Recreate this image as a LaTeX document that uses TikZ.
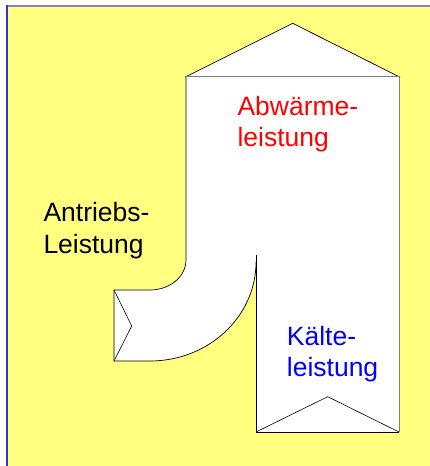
\documentclass[tikz,border=0pt]{standalone}
\usepackage{fontspec}
\setmainfont{Liberation Sans}
\usepackage{tikz}
\definecolor{bgyellow}{HTML}{FFFF80}
\definecolor{frameblue}{HTML}{3333CC}
\definecolor{frametop}{HTML}{8080CC}
\definecolor{edgegray}{HTML}{808070}
\tikzset{
  flowtext/.style={inner sep=0pt,anchor=base west,align=left,
    font=\fontsize{26.5}{31.5}\selectfont},
}
\begin{document}
\begin{tikzpicture}[x=1pt,y=1pt]
\useasboundingbox (0,0) rectangle (430,466);
% background:
\path[fill=bgyellow] (7,0) rectangle (430,460);
\path[draw=frametop,line width=1.3pt] (6.5,460) -- (430,460);
\path[draw=frameblue,line width=1.3pt] (7,0) -- (7,460.6);
% objects at depth 50:
\path[draw=black,fill=white,line width=0.7pt] (186,389.3) -- (292.7,442.7) -- (399,389.3) -- cycle;
\path[fill=white] (186,389.3) -- (399,389.3) -- (399,34) -- (256,34) -- (256,204)
  arc[start angle=0,end angle=-90,x radius=106,y radius=99] -- (114,105) -- (114,176)
  -- (150,176) arc[start angle=-90,end angle=0,x radius=36,y radius=30] -- cycle;
% outlines:
\path[draw=black,line width=0.7pt] (186,389.3) -- (186,206)
  arc[start angle=0,end angle=-90,x radius=36,y radius=30] -- (114,176) -- (114,105) -- (150,105)
  arc[start angle=-90,end angle=0,x radius=106,y radius=99];
\path[draw=black,line width=0.7pt] (256,211) -- (256,34) -- (399,34);
\path[draw=edgegray,line width=0.8pt] (186,389.3) -- (399,389.3) -- (399,34);
\path[draw=black,line width=0.6pt] (114,176) -- (131.7,140) -- (114,105);
\path[draw=black,line width=0.6pt] (256,34) -- (327.7,69.3) -- (399,34);
% labels:
\node[flowtext,text=red] (abwaerme) at (237.3,319) {Abwärme-\\leistung};
\node[flowtext,text=black] (antrieb) at (43.3,212.7) {Antriebs-\\Leistung};
\node[flowtext,text=blue] (kaelte) at (286.7,89.3) {Kälte-\\leistung};
\end{tikzpicture}
\end{document}
